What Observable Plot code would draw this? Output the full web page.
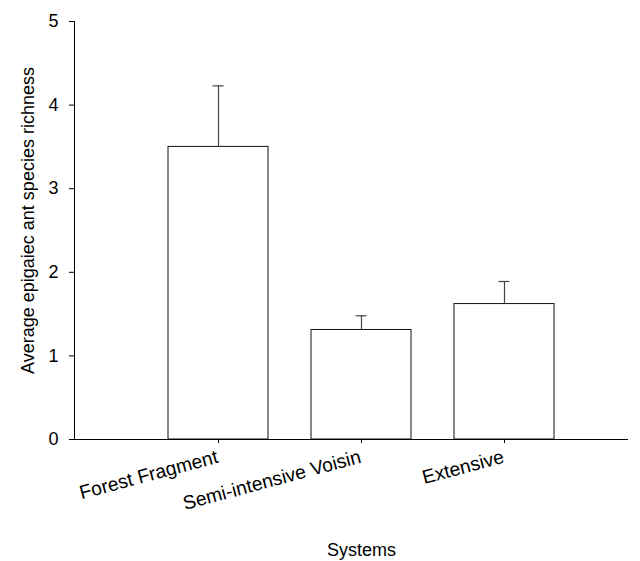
<!DOCTYPE html>
<html>
<head>
<meta charset="utf-8">
<script src="https://cdn.jsdelivr.net/npm/d3@7"></script>
<script src="https://cdn.jsdelivr.net/npm/@observablehq/plot@0.6"></script>
<style>
  html, body { margin: 0; padding: 0; background: #fff; }
</style>
</head>
<body>
<div id="chart"></div>
<script>
const systems = ["Forest Fragment", "Semi-intensive Voisin", "Extensive"];
const means = [3.50, 1.31, 1.62];
const upper = [4.23, 1.48, 1.89];
const yTicks = [0, 1, 2, 3, 4, 5];
const xTitle = "Systems";
const yTitle = "Average epigaiec ant species richness";

const data = systems.map((s, i) => ({system: s, mean: means[i], upper: upper[i]}));

const font = "'Liberation Sans', Arial, sans-serif";

const chart = Plot.plot({
  width: 640,
  height: 561,
  marginLeft: 74,
  marginRight: 12,
  marginTop: 21,
  marginBottom: 122,
  style: {fontFamily: font, fontSize: "18px", background: "#fff", color: "#000"},
  x: {domain: systems, range: [146, 576.5], paddingInner: 0.30, paddingOuter: 0.15, axis: null},
  y: {domain: [0, 5], axis: null},
  marks: [
    Plot.barY(data, {x: "system", y: "mean", fill: "#fff", stroke: "#111", strokeWidth: 1}),
    Plot.ruleX(data, {x: "system", y1: "mean", y2: "upper", stroke: "#444", strokeWidth: 1.2}),
    Plot.tickY(data, {x: "system", y: "upper", stroke: "#444", strokeWidth: 1.2, insetLeft: 44.5, insetRight: 44.5}),
    Plot.ruleY([0], {stroke: "#000", strokeWidth: 1, insetLeft: -5}),
    Plot.frame({anchor: "left", stroke: "#000", strokeWidth: 1}),
    Plot.axisY({ticks: yTicks, tickSize: 5, tickPadding: 11, tickFormat: d3.format("d"), fontSize: 18, label: null, stroke: "#000"}),
    Plot.axisX({tickSize: 4, tickFormat: () => "", label: null, stroke: "#000"}),
    Plot.text(data, {x: "system", y: () => 0, text: "system", rotate: -15, textAnchor: "end", lineAnchor: "middle", dy: 17, dx: -1, fontSize: 19.3, fill: "#000"}),
    Plot.text([yTitle], {frameAnchor: "left", rotate: -90, textAnchor: "middle", lineAnchor: "middle", dx: -46, dy: -10, fontSize: 18, fill: "#000"}),
    Plot.text([xTitle], {frameAnchor: "bottom", textAnchor: "middle", lineAnchor: "middle", dx: 10, dy: 111, fontSize: 18, fill: "#000"})
  ]
});

document.getElementById("chart").appendChild(chart);
</script>
</body>
</html>
